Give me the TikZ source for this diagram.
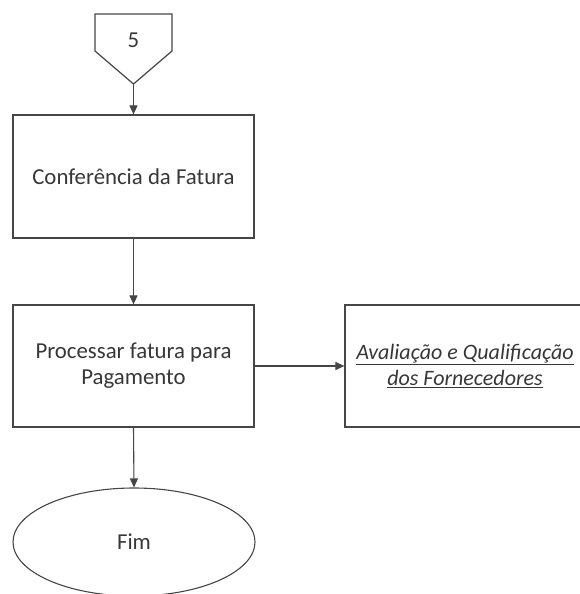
\documentclass[tikz,border=0pt]{standalone}
\usepackage{fontspec}
\setmainfont{Carlito}
\usepackage{tikz}
\usetikzlibrary{arrows.meta,shapes.geometric,positioning}
\definecolor{flowline}{RGB}{70,70,70}
\definecolor{flowtext}{RGB}{55,55,55}

\begin{document}
\begin{tikzpicture}[x=1pt,y=-1pt,
  every node/.style={font=\fontsize{22.8}{26}\selectfont,text=flowtext},
  procbox/.style={draw=flowline,line width=1.2pt,rectangle,minimum width=241pt,minimum height=122pt,align=center},
  endshape/.style={draw=flowline,line width=1.1pt,ellipse,minimum width=242pt,minimum height=108pt},
  flowarrow/.style={-{Triangle[length=9pt,width=8pt]},draw=flowline,fill=flowline,line width=1.1pt}]
  \useasboundingbox (0,0) rectangle (579,594);
  \draw[flowline,line width=1.2pt] (95,14) -- (172,14) -- (172,51) -- (133.5,84) -- (95,51) -- cycle;
  \node (conn5) at (133.5,40) {5};
  \coordinate (conn5tip) at (133.5,84);
  \node[procbox,minimum height=123pt] (conferencia) at (133.5,176.5) {Conferência da Fatura};
  \node[procbox] (processar) at (133.5,366) {Processar fatura para\\Pagamento};
  \node[procbox,minimum width=240pt,font=\fontsize{22}{26}\selectfont\itshape] (avaliacao) at (465,366) {\underline{Avaliação e Qualificação}\\\underline{dos Fornecedores}};
  \node[endshape] (fim) at (134,542) {Fim};
  \draw[flowarrow] (conn5tip) -- (conferencia.north);
  \draw[flowarrow] (conferencia.south) -- (processar.north);
  \draw[flowarrow] (processar.east) -- (avaliacao.west);
  \draw[flowarrow] (processar.south) -- (fim.north);
\end{tikzpicture}
\end{document}
